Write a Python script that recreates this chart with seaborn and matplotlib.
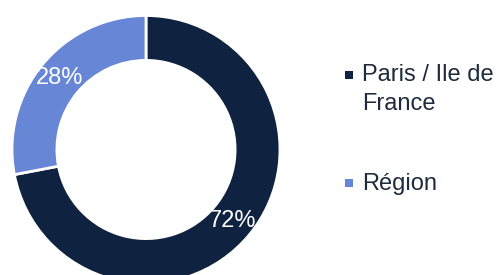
import matplotlib
matplotlib.use("Agg")
import matplotlib.pyplot as plt
import matplotlib.patches as mpatches
import seaborn as sns

labels = ["Paris / Ile de\nFrance", "Région"]
shares = [72, 28]
palette = ["#0F2341", "#6787D6"]

sns.set_theme(style="white")
plt.rcParams['font.family'] = ['Liberation Sans', 'DejaVu Sans']

W, H = 497, 275
fig = plt.figure(figsize=(W / 100, H / 100), dpi=100)
ax = fig.add_axes([12 / W, -8.5 / H, 268 / W, 268 / H])

wedges, texts, autotexts = ax.pie(
    shares,
    colors=palette,
    startangle=90,
    counterclock=False,
    radius=1,
    autopct='%d%%',
    pctdistance=0.84,
    wedgeprops={'width': 0.335, 'edgecolor': 'white', 'linewidth': 2},
    textprops={'color': 'white', 'fontsize': 17},
)
ax.set_xlim(-1, 1)
ax.set_ylim(-1, 1)
ax.set_aspect('equal')
ax.axis('off')

# legend drawn by hand: square marker + label, first-line baselines
legend_baselines = [82, 190]
line_px = 28
for lab, col, yb in zip(labels, palette, legend_baselines):
    fig.patches.append(mpatches.Rectangle(
        (345 / W, 1 - (yb - 3) / H), 8 / W, 8 / H,
        transform=fig.transFigure, facecolor=col, edgecolor='none'))
    last_base = yb + line_px * lab.count('\n')
    fig.text(362 / W, 1 - last_base / H, lab, fontsize=17, color='#1F2A3D',
             va='baseline', ha='left', linespacing=1.42)

fig.savefig('out.png', dpi=100)
